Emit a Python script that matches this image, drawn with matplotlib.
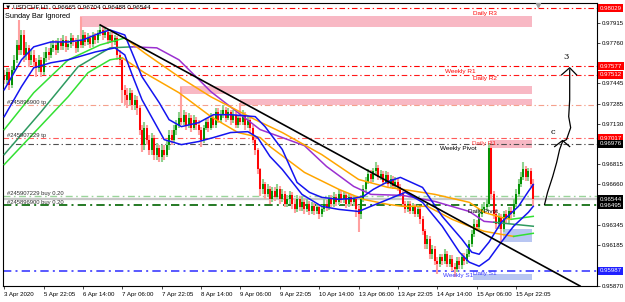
import matplotlib
matplotlib.use("Agg")
import matplotlib.pyplot as plt
from matplotlib.patches import Rectangle
from matplotlib.transforms import blended_transform_factory

plt.rcParams["font.family"] = ["Liberation Sans", "DejaVu Sans"]

# --- USDCHF H1 candles (bar 0 = first visible bar) -------------------------
first_open = 0.97511
closes = [
    0.97473, 0.97534, 0.97434, 0.97550, 0.97628, 0.97744, 0.97705, 0.97821, 0.97666, 0.97721,
    0.97628, 0.97666, 0.97612, 0.97566, 0.97628, 0.97534, 0.97643, 0.97689, 0.97666, 0.97721,
    0.97744, 0.97705, 0.97767, 0.97736, 0.97783, 0.97729, 0.97752, 0.97798, 0.97767, 0.97721,
    0.97783, 0.97744, 0.97821, 0.97767, 0.97798, 0.97752, 0.97813, 0.97783, 0.97837, 0.97860,
    0.97821, 0.97844, 0.97783, 0.97821, 0.97767, 0.97798, 0.97666, 0.97628, 0.97395, 0.97356,
    0.97317, 0.97372, 0.97278, 0.97317, 0.97255, 0.97085, 0.96968, 0.97100, 0.97007, 0.96930,
    0.97023, 0.96891, 0.96945, 0.96868, 0.96930, 0.96891, 0.96968, 0.97046, 0.97007, 0.97085,
    0.97123, 0.97178, 0.97146, 0.97201, 0.97123, 0.97178, 0.97100, 0.97162, 0.97123, 0.97085,
    0.97007, 0.97100, 0.97146, 0.97100, 0.97178, 0.97123, 0.97224, 0.97162, 0.97201, 0.97240,
    0.97178, 0.97224, 0.97162, 0.97201, 0.97123, 0.97178, 0.97146, 0.97201, 0.97123, 0.97162,
    0.97100, 0.97007, 0.96930, 0.96775, 0.96620, 0.96658, 0.96581, 0.96620, 0.96542, 0.96604,
    0.96558, 0.96620, 0.96542, 0.96581, 0.96503, 0.96542, 0.96573, 0.96503, 0.96464, 0.96542,
    0.96480, 0.96519, 0.96464, 0.96503, 0.96448, 0.96488, 0.96448, 0.96480, 0.96425, 0.96464,
    0.96503, 0.96480, 0.96542, 0.96503, 0.96558, 0.96519, 0.96581, 0.96542, 0.96573, 0.96503,
    0.96558, 0.96519, 0.96542, 0.96464, 0.96425, 0.96542, 0.96620, 0.96681, 0.96736, 0.96697,
    0.96759, 0.96790, 0.96713, 0.96736, 0.96681, 0.96728, 0.96658, 0.96697, 0.96643, 0.96681,
    0.96635, 0.96581, 0.96503, 0.96464, 0.96503, 0.96448, 0.96480, 0.96425, 0.96464, 0.96387,
    0.96293, 0.96193, 0.96232, 0.96115, 0.96154, 0.96061, 0.96038, 0.96092, 0.96061, 0.96115,
    0.96038, 0.96077, 0.96015, 0.95999, 0.96061, 0.96030, 0.96092, 0.96061, 0.96115, 0.96193,
    0.96270, 0.96348, 0.96325, 0.96425, 0.96464, 0.96480, 0.96503, 0.96945, 0.96581, 0.96425,
    0.96348, 0.96402, 0.96309, 0.96425, 0.96387, 0.96448, 0.96425, 0.96503, 0.96581, 0.96658,
    0.96713, 0.96775, 0.96713, 0.96759, 0.96665, 0.96544,
]
highs = [
    0.97550, 0.97566, 0.97566, 0.97581, 0.97666, 0.97783, 0.97938, 0.97860, 0.97860, 0.97767,
    0.97744, 0.97705, 0.97705, 0.97643, 0.97666, 0.97651, 0.97689, 0.97729, 0.97721, 0.97767,
    0.97783, 0.97783, 0.97798, 0.97798, 0.97821, 0.97813, 0.97783, 0.97837, 0.97821, 0.97798,
    0.97821, 0.97961, 0.97860, 0.97844, 0.97837, 0.97821, 0.97844, 0.97837, 0.97860, 0.97899,
    0.97884, 0.97876, 0.97860, 0.97844, 0.97844, 0.97821, 0.97813, 0.97705, 0.97643, 0.97434,
    0.97411, 0.97411, 0.97395, 0.97356, 0.97348, 0.97278, 0.97123, 0.97146, 0.97123, 0.97046,
    0.97062, 0.97046, 0.96984, 0.96968, 0.96968, 0.96968, 0.97007, 0.97085, 0.97085, 0.97123,
    0.97162, 0.97224, 0.97419, 0.97240, 0.97224, 0.97217, 0.97201, 0.97201, 0.97186, 0.97162,
    0.97108, 0.97123, 0.97178, 0.97178, 0.97217, 0.97201, 0.97255, 0.97255, 0.97240, 0.97278,
    0.97263, 0.97255, 0.97240, 0.97240, 0.97224, 0.97201, 0.97294, 0.97240, 0.97224, 0.97193,
    0.97186, 0.97123, 0.97031, 0.96945, 0.96790, 0.96697, 0.96681, 0.96658, 0.96643, 0.96635,
    0.96635, 0.96658, 0.96643, 0.96620, 0.96604, 0.96573, 0.96604, 0.96597, 0.96542, 0.96573,
    0.96566, 0.96558, 0.96542, 0.96542, 0.96526, 0.96519, 0.96511, 0.96511, 0.96503, 0.96495,
    0.96542, 0.96534, 0.96573, 0.96573, 0.96597, 0.96581, 0.96620, 0.96612, 0.96604, 0.96597,
    0.96589, 0.96581, 0.96573, 0.96566, 0.96495, 0.96573, 0.96650, 0.96713, 0.96775, 0.96767,
    0.96790, 0.96836, 0.96813, 0.96767, 0.96759, 0.96759, 0.96752, 0.96728, 0.96721, 0.96713,
    0.96705, 0.96658, 0.96604, 0.96526, 0.96526, 0.96526, 0.96511, 0.96503, 0.96495, 0.96488,
    0.96410, 0.96309, 0.96262, 0.96254, 0.96185, 0.96178, 0.96092, 0.96115, 0.96115, 0.96154,
    0.96138, 0.96107, 0.96107, 0.96046, 0.96092, 0.96092, 0.96123, 0.96123, 0.96154, 0.96224,
    0.96301, 0.96387, 0.96379, 0.96464, 0.96503, 0.96519, 0.96542, 0.96984, 0.96968, 0.96604,
    0.96464, 0.96433, 0.96425, 0.96448, 0.96456, 0.96480, 0.96480, 0.96542, 0.96620, 0.96697,
    0.96752, 0.96829, 0.96798, 0.96790, 0.96790, 0.96704,
]
lows = [
    0.97442, 0.97442, 0.97395, 0.97411, 0.97527, 0.97605, 0.97666, 0.97666, 0.97612, 0.97628,
    0.97574, 0.97589, 0.97566, 0.97496, 0.97534, 0.97496, 0.97511, 0.97612, 0.97628, 0.97643,
    0.97689, 0.97666, 0.97682, 0.97705, 0.97705, 0.97689, 0.97705, 0.97721, 0.97736, 0.97682,
    0.97689, 0.97721, 0.97721, 0.97736, 0.97744, 0.97721, 0.97729, 0.97752, 0.97760, 0.97813,
    0.97783, 0.97798, 0.97752, 0.97760, 0.97729, 0.97744, 0.97628, 0.97589, 0.97294, 0.97278,
    0.97255, 0.97278, 0.97240, 0.97240, 0.97201, 0.97046, 0.96907, 0.96930, 0.96968, 0.96891,
    0.96891, 0.96852, 0.96852, 0.96836, 0.96836, 0.96852, 0.96868, 0.96930, 0.96968, 0.96984,
    0.97046, 0.97100, 0.97123, 0.97123, 0.97085, 0.97100, 0.97069, 0.97085, 0.97085, 0.97046,
    0.96953, 0.96984, 0.97085, 0.97069, 0.97085, 0.97100, 0.97100, 0.97139, 0.97139, 0.97178,
    0.97146, 0.97162, 0.97123, 0.97139, 0.97100, 0.97100, 0.97123, 0.97123, 0.97085, 0.97100,
    0.97062, 0.96984, 0.96891, 0.96736, 0.96566, 0.96581, 0.96542, 0.96558, 0.96503, 0.96519,
    0.96526, 0.96542, 0.96503, 0.96519, 0.96480, 0.96480, 0.96503, 0.96464, 0.96433, 0.96441,
    0.96448, 0.96448, 0.96425, 0.96441, 0.96417, 0.96425, 0.96417, 0.96425, 0.96387, 0.96402,
    0.96441, 0.96448, 0.96456, 0.96480, 0.96480, 0.96488, 0.96495, 0.96511, 0.96511, 0.96472,
    0.96480, 0.96488, 0.96488, 0.96402, 0.96286, 0.96387, 0.96519, 0.96597, 0.96658, 0.96666,
    0.96674, 0.96728, 0.96689, 0.96689, 0.96658, 0.96658, 0.96635, 0.96635, 0.96620, 0.96620,
    0.96604, 0.96558, 0.96480, 0.96433, 0.96441, 0.96425, 0.96425, 0.96402, 0.96402, 0.96348,
    0.96262, 0.96154, 0.96154, 0.96077, 0.96077, 0.96030, 0.95960, 0.96015, 0.96030, 0.96038,
    0.96015, 0.96015, 0.95983, 0.95937, 0.95976, 0.95999, 0.95999, 0.96030, 0.96038, 0.96092,
    0.96170, 0.96248, 0.96293, 0.96309, 0.96402, 0.96433, 0.96448, 0.96480, 0.96542, 0.96387,
    0.96309, 0.96309, 0.96209, 0.96286, 0.96356, 0.96356, 0.96394, 0.96402, 0.96480, 0.96558,
    0.96635, 0.96689, 0.96682, 0.96682, 0.96635, 0.96488,
]

# --- indicator lines (bar index, price) --------------------------------------
blue_up_x = [0, 7, 12, 19, 26, 32, 39, 43, 49, 56, 63, 67, 72, 79, 85, 92, 102, 106, 113, 119,
             124, 129, 136, 142, 146, 150, 156, 161, 170, 178, 186, 190, 193, 197, 202, 209, 213, 215]
blue_up_y = [0.97395, 0.97628, 0.97729, 0.97767, 0.97767, 0.97783, 0.97837, 0.97860, 0.97821,
             0.97496, 0.97294, 0.97162, 0.97108, 0.97139, 0.97201, 0.97201, 0.97186, 0.97108,
             0.96930, 0.96674, 0.96597, 0.96558, 0.96542, 0.96550, 0.96566, 0.96620, 0.96681,
             0.96713, 0.96635, 0.96410, 0.96232, 0.96131, 0.96115, 0.96209, 0.96364, 0.96488,
             0.96604, 0.96658]
blue_lo_x = [0, 7, 12, 19, 26, 37, 45, 49, 52, 56, 65, 72, 79, 85, 92, 99, 103, 108, 113, 121,
             129, 136, 144, 149, 156, 163, 170, 178, 185, 189, 193, 197, 202, 207, 213, 215]
blue_lo_y = [0.97186, 0.97419, 0.97566, 0.97605, 0.97628, 0.97689, 0.97721, 0.97666, 0.97511,
             0.97317, 0.97007, 0.96968, 0.96992, 0.97023, 0.97062, 0.97069, 0.97023, 0.96876,
             0.96775, 0.96581, 0.96488, 0.96464, 0.96448, 0.96488, 0.96542, 0.96597, 0.96519,
             0.96333, 0.96131, 0.96053, 0.96022, 0.96077, 0.96209, 0.96333, 0.96441, 0.96488]

# fast MA: lime while rising, orange while falling
ma1_up_x = [0, 12, 26, 39, 49]
ma1_up_y = [0.97085, 0.97372, 0.97628, 0.97744, 0.97798]
ma1_dn_x = [49, 57, 71, 84, 102, 113, 129, 144, 156, 162, 175, 189, 195, 202, 206]
ma1_dn_y = [0.97798, 0.97682, 0.97496, 0.97340, 0.97162, 0.97062, 0.96891, 0.96697, 0.96635,
            0.96620, 0.96581, 0.96519, 0.96441, 0.96402, 0.96387]
ma1_end_x = [206, 215]
ma1_end_y = [0.96387, 0.96410]
# medium MA: sea green while rising, purple while falling
ma2_up_x = [0, 15, 30, 43, 52]
ma2_up_y = [0.96891, 0.97224, 0.97574, 0.97721, 0.97729]
ma2_dn_x = [52, 62, 71, 84, 95, 104, 113, 122, 131, 142, 149, 162, 175, 189, 195, 199]
ma2_dn_y = [0.97729, 0.97721, 0.97628, 0.97380, 0.97217, 0.97085, 0.97023, 0.96960, 0.96798,
            0.96643, 0.96581, 0.96573, 0.96526, 0.96448, 0.96371, 0.96364]
ma2_end_x = [199, 215]
ma2_end_y = [0.96364, 0.96333]
# slow MA: lime while rising, orange while falling
ma3_up_x = [0, 26, 34, 43, 48]
ma3_up_y = [0.96813, 0.97341, 0.97527, 0.97628, 0.97643]
ma3_dn_x = [48, 57, 71, 84, 95, 104, 108, 122, 136, 146, 156, 162, 172, 182, 189, 195, 202, 207]
ma3_dn_y = [0.97643, 0.97527, 0.97372, 0.97186, 0.97062, 0.97023, 0.96953, 0.96752, 0.96620,
            0.96542, 0.96503, 0.96488, 0.96488, 0.96387, 0.96333, 0.96294, 0.96270, 0.96254]
ma3_end_x = [207, 215]
ma3_end_y = [0.96254, 0.96278]

trend_x = [39, 234]
trend_y = [0.97899, 0.95868]

# --- horizontal levels -----------------------------------------------------
level_prices = [0.98029, 0.97577, 0.97512, 0.97273, 0.97017, 0.96976, 0.96566, 0.96495, 0.95987]
level_colors = ["#ff0000", "#ff0000", "#ff1a1a", "#f5a08c", "#ff5a5a", "#505050", "#9ad49a",
                "#006400", "#3c3cff"]
level_widths = [0.8, 0.8, 0.8, 0.8, 0.8, 0.8, 1.0, 1.2, 1.2]
bid_price = 0.96544

zone_x0 = [30.8, 71.5, 95.8, 197.5, 202.8, 190.4]
zone_x1 = [214.6, 214.6, 214.6, 214.6, 214.6, 214.6]
zone_lo = [0.97880, 0.97364, 0.97279, 0.96938, 0.96209, 0.95914]
zone_hi = [0.97965, 0.97426, 0.97325, 0.97007, 0.96309, 0.95960]
zone_colors = ["#f8b8c4", "#f8b8c4", "#f8b8c4", "#f8b8c4", "#b8c6f2", "#b8c6f2"]

pivot_names = ["Daily R3", "Weekly R1", "Daily R2", "Weekly Pivot", "Daily R1", "Daily Pivot",
               "Weekly S1", "Daily S1"]
pivot_x = [190.4, 179.0, 190.4, 177.0, 190.0, 188.4, 178.2, 190.4]
pivot_y = [0.97992, 0.97534, 0.97480, 0.96938, 0.96976, 0.96449, 0.95953, 0.95968]
pivot_colors = ["#ff0000", "#ff0000", "#ff0000", "#000000", "#ff3030", "#000000", "#3c3cff",
                "#3c3cff"]

order_names = ["#245896900 tp", "#245907229 tp", "#245907229 buy 0.20", "#245896900 buy 0.20"]
order_prices = [0.97273, 0.97017, 0.96566, 0.96495]

box_prices = [0.98029, 0.97577, 0.97512, 0.97017, 0.96976, 0.96544, 0.96495, 0.95987]
box_colors = ["#ff0000", "#ff0000", "#ff0000", "#ff0000", "#000000", "#000000", "#000000",
              "#2020ff"]
ytick_vals = [0.97915, 0.97760, 0.97445, 0.97285, 0.97130, 0.96815, 0.96660, 0.96345, 0.96185,
              0.95870]

xtick_pos = [0, 16, 32, 48, 64, 80, 96, 112, 128, 144, 160, 176, 192, 208]
xtick_labels = ["3 Apr 2020", "5 Apr 22:05", "6 Apr 14:00", "7 Apr 06:00", "7 Apr 22:05",
                "8 Apr 14:00", "9 Apr 06:00", "9 Apr 22:05", "10 Apr 14:00", "13 Apr 06:00",
                "13 Apr 22:05", "14 Apr 14:00", "15 Apr 06:00", "15 Apr 22:05"]

# hand drawn wave arrow
arrow_x = [219.6, 220.8, 222.9, 224.5, 225.7, 226.9, 228.5, 230.2, 229.4, 229.8, 229.8, 229.8]
arrow_y = [0.96503, 0.96596, 0.96720, 0.96829, 0.96930, 0.96992, 0.97007, 0.97100, 0.97186,
           0.97317, 0.97473, 0.97550]
caret1_x = [223.7, 226.9, 229.8]
caret1_y = [0.96953, 0.97000, 0.96953]
caret2_x = [226.5, 229.8, 232.6]
caret2_y = [0.97511, 0.97566, 0.97511]

DASHDOT = (0, (5, 2.5, 1.2, 2.5))

fig = plt.figure(figsize=(6.25, 3.02), dpi=100)
ax = fig.add_axes([3 / 625, 16 / 302, 594 / 625, 283 / 302])
ax.set_xlim(-0.5, 240.9)
ax.set_ylim(0.95868, 0.98070)

# zones
for x0, x1, lo, hi, c in zip(zone_x0, zone_x1, zone_lo, zone_hi, zone_colors):
    ax.add_patch(Rectangle((x0, lo), x1 - x0, hi - lo, fc=c, ec="none", zorder=1))

# levels
ax.axhline(bid_price, color="#c8c8c8", lw=1.6, zorder=1.5)
for p, c, w in zip(level_prices, level_colors, level_widths):
    ax.axhline(p, color=c, lw=w, ls=DASHDOT, zorder=1.6)

# candles
opens = [first_open] + closes[:-1]
for i, (o, h, l, c) in enumerate(zip(opens, highs, lows, closes)):
    bull = c >= o
    ax.vlines(i, l, h, color="#8fd28f" if bull else "#ffa0a0", lw=1.5, zorder=2)
    ax.vlines(i, min(o, c), max(o, c), color="#009000" if bull else "#ff0000", lw=1.4, zorder=2.1)

# moving averages
lw_ma = 1.1
ax.plot(ma3_up_x, ma3_up_y, color="#33e033", lw=lw_ma, zorder=3)
ax.plot(ma3_dn_x, ma3_dn_y, color="#ffa500", lw=lw_ma, zorder=3)
ax.plot(ma3_end_x, ma3_end_y, color="#33e033", lw=lw_ma, zorder=3)
ax.plot(ma2_up_x, ma2_up_y, color="#2e9a60", lw=lw_ma, zorder=3)
ax.plot(ma2_dn_x, ma2_dn_y, color="#9b30d0", lw=lw_ma, zorder=3)
ax.plot(ma2_end_x, ma2_end_y, color="#2e9a60", lw=lw_ma, zorder=3)
ax.plot(ma1_up_x, ma1_up_y, color="#33e033", lw=lw_ma, zorder=3)
ax.plot(ma1_dn_x, ma1_dn_y, color="#ffa500", lw=lw_ma, zorder=3)
ax.plot(ma1_end_x, ma1_end_y, color="#33e033", lw=lw_ma, zorder=3)
ax.plot(blue_up_x, blue_up_y, color="#1414f0", lw=lw_ma, zorder=3.2)
ax.plot(blue_lo_x, blue_lo_y, color="#1414f0", lw=lw_ma, zorder=3.2)

ax.plot(trend_x, trend_y, color="black", lw=1.2, zorder=3.5)

# hand drawing
ax.plot(arrow_x, arrow_y, color="black", lw=0.9, zorder=4)
ax.plot(caret1_x, caret1_y, color="black", lw=0.9, zorder=4)
ax.plot(caret2_x, caret2_y, color="black", lw=0.9, zorder=4)
ax.text(222.9, 0.97070, "c", fontsize=6, family="DejaVu Serif", ha="center", va="center")
ax.text(228.2, 0.97651, "3", fontsize=6, family="DejaVu Serif", ha="center", va="center")

# pivot labels
for name, x, y, c in zip(pivot_names, pivot_x, pivot_y, pivot_colors):
    ax.text(x, y, name, color=c, fontsize=4.6, ha="left", va="center", zorder=5)
for name, p in zip(order_names, order_prices):
    ax.text(1.2, p + 0.00003, name, color="#303030", fontsize=4.2, ha="left", va="bottom",
            zorder=5)

# chart-shift marker
ax.plot([216.8], [0.98052], marker="v", color="#a0a0a0", ms=3, zorder=5)

# axes styling
for s in ax.spines.values():
    s.set_color("black")
    s.set_linewidth(0.8)
ax.yaxis.tick_right()
ax.set_yticks(ytick_vals)
ax.set_yticklabels([f"{v:.5f}" for v in ytick_vals])
ax.tick_params(axis="y", labelsize=4.4, length=2, width=0.5, pad=1.5, colors="black")
ax.set_xticks(xtick_pos)
ax.set_xticklabels(xtick_labels)
ax.tick_params(axis="x", labelsize=4.4, length=2, width=0.5, pad=2)
for t in ax.get_xticklabels():
    t.set_horizontalalignment("left")

tr = blended_transform_factory(ax.transAxes, ax.transData)
for p, c in zip(box_prices, box_colors):
    ax.text(1.0045, p, f"{p:.5f}", transform=tr, fontsize=4.4, color="white", ha="left",
            va="center", zorder=6, clip_on=False,
            bbox=dict(boxstyle="square,pad=0.25", fc=c, ec="none"))

fig.text(5 / 625, 1 - 6.5 / 302, "\u25bc USDCHF,H1  0.96665 0.96704 0.96488 0.96544",
         fontsize=4.6, ha="left", va="center")
fig.text(5 / 625, 1 - 17 / 302, "Sunday Bar Ignored", fontsize=5.3, ha="left", va="center")

fig.savefig("out.png", dpi=100)
